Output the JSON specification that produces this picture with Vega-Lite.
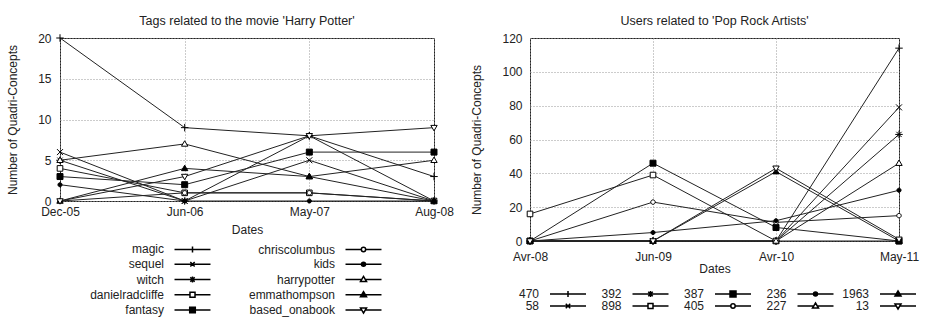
{
  "$schema": "https://vega.github.io/schema/vega-lite/v6.json",
  "padding": {"left": 6, "top": 14, "right": 0, "bottom": 0},
  "spacing": 16,
  "config": {
    "font": "Liberation Sans",
    "view": {"stroke": "#222", "strokeWidth": 1},
    "axis": {
      "grid": true, "gridColor": "#999", "gridDash": [1, 2], "gridWidth": 1,
      "domain": false, "ticks": false,
      "labelFont": "Liberation Sans", "labelFontSize": 12, "labelColor": "#222",
      "titleFont": "Liberation Sans", "titleFontSize": 12, "titleFontWeight": "normal", "titleColor": "#222"
    },
    "title": {"font": "Liberation Sans", "fontSize": 12.5, "fontWeight": "normal", "color": "#222"},
    "legend": {
      "labelFont": "Liberation Sans", "labelFontSize": 12, "labelColor": "#222",
      "padding": 0, "gridAlign": "all", "labelAlign": "right"
    }
  },
  "hconcat": [
    {
      "title": {"text": "Tags related to the movie 'Harry Potter'", "offset": 5},
      "width": 374,
      "height": 163,
      "data": {"values": [
        {"s": "magic", "d": "Dec-05", "v": 20}, {"s": "magic", "d": "Jun-06", "v": 9}, {"s": "magic", "d": "May-07", "v": 8}, {"s": "magic", "d": "Aug-08", "v": 3},
        {"s": "sequel", "d": "Dec-05", "v": 6}, {"s": "sequel", "d": "Jun-06", "v": 0}, {"s": "sequel", "d": "May-07", "v": 5}, {"s": "sequel", "d": "Aug-08", "v": 0},
        {"s": "witch", "d": "Dec-05", "v": 5}, {"s": "witch", "d": "Jun-06", "v": 0}, {"s": "witch", "d": "May-07", "v": 8}, {"s": "witch", "d": "Aug-08", "v": 0},
        {"s": "danielradcliffe", "d": "Dec-05", "v": 4}, {"s": "danielradcliffe", "d": "Jun-06", "v": 1}, {"s": "danielradcliffe", "d": "May-07", "v": 1}, {"s": "danielradcliffe", "d": "Aug-08", "v": 0},
        {"s": "fantasy", "d": "Dec-05", "v": 3}, {"s": "fantasy", "d": "Jun-06", "v": 2}, {"s": "fantasy", "d": "May-07", "v": 6}, {"s": "fantasy", "d": "Aug-08", "v": 6},
        {"s": "chriscolumbus", "d": "Dec-05", "v": 0}, {"s": "chriscolumbus", "d": "Jun-06", "v": 1}, {"s": "chriscolumbus", "d": "May-07", "v": 1}, {"s": "chriscolumbus", "d": "Aug-08", "v": 0},
        {"s": "kids", "d": "Dec-05", "v": 2}, {"s": "kids", "d": "Jun-06", "v": 0}, {"s": "kids", "d": "May-07", "v": 0}, {"s": "kids", "d": "Aug-08", "v": 0},
        {"s": "harrypotter", "d": "Dec-05", "v": 5}, {"s": "harrypotter", "d": "Jun-06", "v": 7}, {"s": "harrypotter", "d": "May-07", "v": 3}, {"s": "harrypotter", "d": "Aug-08", "v": 5},
        {"s": "emmathompson", "d": "Dec-05", "v": 0}, {"s": "emmathompson", "d": "Jun-06", "v": 4}, {"s": "emmathompson", "d": "May-07", "v": 3}, {"s": "emmathompson", "d": "Aug-08", "v": 0},
        {"s": "based_onabook", "d": "Dec-05", "v": 0}, {"s": "based_onabook", "d": "Jun-06", "v": 3}, {"s": "based_onabook", "d": "May-07", "v": 8}, {"s": "based_onabook", "d": "Aug-08", "v": 9}
      ]},
      "encoding": {
        "x": {"field": "d", "type": "ordinal", "sort": ["Dec-05", "Jun-06", "May-07", "Aug-08"],
              "scale": {"type": "point", "padding": 0},
              "axis": {"title": "Dates", "labelAngle": 0, "labelPadding": 5, "titlePadding": 7}},
        "y": {"field": "v", "type": "quantitative", "scale": {"domain": [0, 20], "nice": false},
              "axis": {"title": "Number of Quadri-Concepts", "values": [0, 5, 10, 15, 20], "labelPadding": 9, "titlePadding": 18}}
      },
      "layer": [
        {"mark": {"type": "line", "color": "#222", "strokeWidth": 1}, "encoding": {"detail": {"field": "s"}}},
        {"mark": {"type": "point", "stroke": "#000", "strokeWidth": 1, "size": 56, "opacity": 1},
         "encoding": {
           "shape": {"field": "s", "type": "nominal", "legend": null, "scale": {
             "domain": ["magic", "sequel", "witch", "danielradcliffe", "fantasy", "chriscolumbus", "kids", "harrypotter", "emmathompson", "based_onabook"],
             "range": ["M-1,0H1M0,-1V1", "M-0.8,-0.8L0.8,0.8M-0.8,0.8L0.8,-0.8", "M-1,0H1M0,-1V1M-0.7,-0.7L0.7,0.7M-0.7,0.7L0.7,-0.7", "M-0.75,-0.75H0.75V0.75H-0.75Z", "M-0.8,-0.8H0.8V0.8H-0.8Z", "M0.6,0A0.6,0.6 0 1,1 -0.6,0A0.6,0.6 0 1,1 0.6,0Z", "M0.55,0A0.55,0.55 0 1,1 -0.55,0A0.55,0.55 0 1,1 0.55,0Z", "M0,-0.85L0.85,0.6H-0.85Z", "M0,-0.85L0.85,0.6H-0.85Z", "M0,0.85L0.85,-0.6H-0.85Z"]}},
           "fill": {"field": "s", "type": "nominal", "legend": null, "scale": {
             "domain": ["magic", "sequel", "witch", "danielradcliffe", "fantasy", "chriscolumbus", "kids", "harrypotter", "emmathompson", "based_onabook"],
             "range": ["white", "white", "white", "white", "black", "white", "black", "white", "black", "white"]}}
         }},
        {"transform": [{"filter": "false"}],
         "mark": {"type": "point", "stroke": "#000", "strokeWidth": 1, "size": 196, "opacity": 1},
         "encoding": {
           "shape": {"field": "s", "type": "nominal",
             "legend": {"title": null, "orient": "none", "legendX": 124.5, "legendY": 203, "columns": 2, "labelOffset": -36.5, "columnPadding": 35, "rowPadding": 0.25, "symbolSize": 196, "symbolFillColor": "white"},
             "scale": {
             "domain": ["magic", "sequel", "witch", "danielradcliffe", "fantasy", "chriscolumbus", "kids", "harrypotter", "emmathompson", "based_onabook"],
             "range": ["M-2.57,0H2.57M0,-0.43V0.43", "M-2.57,0H2.57M-0.31,-0.31L0.31,0.31M-0.31,0.31L0.31,-0.31", "M-2.57,0H2.57M0,-0.43V0.43M-0.31,-0.31L0.31,0.31M-0.31,0.31L0.31,-0.31", "M-2.57,0H-0.36M0.36,0H2.57M-0.36,-0.36H0.36V0.36H-0.36Z", "M-2.57,0H2.57M-0.4,-0.4H0.4V0.4H-0.4Z", "M-2.57,0H-0.31M0.31,0H2.57M0.31,0A0.31,0.31 0 1,1 -0.31,0A0.31,0.31 0 1,1 0.31,0Z", "M-2.57,0H2.57M0.29,0A0.29,0.29 0 1,1 -0.29,0A0.29,0.29 0 1,1 0.29,0Z", "M-2.57,0H-0.33M0.33,0H2.57M0,-0.43L0.43,0.29H-0.43Z", "M-2.57,0H2.57M0,-0.43L0.43,0.29H-0.43Z", "M-2.57,0H-0.33M0.33,0H2.57M0,0.43L0.43,-0.29H-0.43Z"]}},
           "fill": {"field": "s", "type": "nominal", "scale": {
             "domain": ["magic", "sequel", "witch", "danielradcliffe", "fantasy", "chriscolumbus", "kids", "harrypotter", "emmathompson", "based_onabook"],
             "range": ["white", "white", "white", "white", "black", "white", "black", "white", "black", "white"]}}
         }}
      ],
      "resolve": {"scale": {"shape": "independent", "fill": "independent"}}
    },
    {
      "title": {"text": "Users related to 'Pop Rock Artists'", "offset": 5},
      "width": 369,
      "height": 203,
      "data": {"values": [
        {"s": "470", "d": "Avr-08", "v": 0}, {"s": "470", "d": "Jun-09", "v": 0}, {"s": "470", "d": "Avr-10", "v": 0}, {"s": "470", "d": "May-11", "v": 114},
        {"s": "58", "d": "Avr-08", "v": 0}, {"s": "58", "d": "Jun-09", "v": 0}, {"s": "58", "d": "Avr-10", "v": 0}, {"s": "58", "d": "May-11", "v": 79},
        {"s": "392", "d": "Avr-08", "v": 0}, {"s": "392", "d": "Jun-09", "v": 0}, {"s": "392", "d": "Avr-10", "v": 0}, {"s": "392", "d": "May-11", "v": 63},
        {"s": "898", "d": "Avr-08", "v": 16}, {"s": "898", "d": "Jun-09", "v": 39}, {"s": "898", "d": "Avr-10", "v": 0}, {"s": "898", "d": "May-11", "v": 0},
        {"s": "387", "d": "Avr-08", "v": 0}, {"s": "387", "d": "Jun-09", "v": 46}, {"s": "387", "d": "Avr-10", "v": 8}, {"s": "387", "d": "May-11", "v": 0},
        {"s": "405", "d": "Avr-08", "v": 0}, {"s": "405", "d": "Jun-09", "v": 23}, {"s": "405", "d": "Avr-10", "v": 11}, {"s": "405", "d": "May-11", "v": 15},
        {"s": "236", "d": "Avr-08", "v": 0}, {"s": "236", "d": "Jun-09", "v": 5}, {"s": "236", "d": "Avr-10", "v": 12}, {"s": "236", "d": "May-11", "v": 30},
        {"s": "227", "d": "Avr-08", "v": 0}, {"s": "227", "d": "Jun-09", "v": 0}, {"s": "227", "d": "Avr-10", "v": 0}, {"s": "227", "d": "May-11", "v": 46},
        {"s": "1963", "d": "Avr-08", "v": 0}, {"s": "1963", "d": "Jun-09", "v": 0}, {"s": "1963", "d": "Avr-10", "v": 41}, {"s": "1963", "d": "May-11", "v": 0},
        {"s": "13", "d": "Avr-08", "v": 0}, {"s": "13", "d": "Jun-09", "v": 0}, {"s": "13", "d": "Avr-10", "v": 43}, {"s": "13", "d": "May-11", "v": 1}
      ]},
      "encoding": {
        "x": {"field": "d", "type": "ordinal", "sort": ["Avr-08", "Jun-09", "Avr-10", "May-11"],
              "scale": {"type": "point", "padding": 0},
              "axis": {"title": "Dates", "labelAngle": 0, "labelPadding": 10, "titlePadding": 1}},
        "y": {"field": "v", "type": "quantitative", "scale": {"domain": [0, 120], "nice": false},
              "axis": {"title": "Number of Quadri-Concepts", "values": [0, 20, 40, 60, 80, 100, 120], "labelPadding": 8, "titlePadding": 18}}
      },
      "layer": [
        {"mark": {"type": "line", "color": "#222", "strokeWidth": 1}, "encoding": {"detail": {"field": "s"}}},
        {"mark": {"type": "point", "stroke": "#000", "strokeWidth": 1, "size": 56, "opacity": 1},
         "encoding": {
           "shape": {"field": "s", "type": "nominal", "legend": null, "scale": {
             "domain": ["470", "58", "392", "898", "387", "405", "236", "227", "1963", "13"],
             "range": ["M-1,0H1M0,-1V1", "M-0.8,-0.8L0.8,0.8M-0.8,0.8L0.8,-0.8", "M-1,0H1M0,-1V1M-0.7,-0.7L0.7,0.7M-0.7,0.7L0.7,-0.7", "M-0.75,-0.75H0.75V0.75H-0.75Z", "M-0.8,-0.8H0.8V0.8H-0.8Z", "M0.6,0A0.6,0.6 0 1,1 -0.6,0A0.6,0.6 0 1,1 0.6,0Z", "M0.55,0A0.55,0.55 0 1,1 -0.55,0A0.55,0.55 0 1,1 0.55,0Z", "M0,-0.85L0.85,0.6H-0.85Z", "M0,-0.85L0.85,0.6H-0.85Z", "M0,0.85L0.85,-0.6H-0.85Z"]}},
           "fill": {"field": "s", "type": "nominal", "legend": null, "scale": {
             "domain": ["470", "58", "392", "898", "387", "405", "236", "227", "1963", "13"],
             "range": ["white", "white", "white", "white", "black", "white", "black", "white", "black", "white"]}}
         }},
        {"transform": [{"filter": "false"}],
         "mark": {"type": "point", "stroke": "#000", "strokeWidth": 1, "size": 100, "opacity": 1},
         "encoding": {
           "shape": {"field": "s", "type": "nominal",
             "legend": {"title": null, "orient": "none", "legendX": 32, "legendY": 250, "columns": 5, "labelOffset": -35, "columnPadding": 5.5, "rowPadding": 0, "symbolSize": 100, "symbolFillColor": "white"},
             "scale": {
             "domain": ["470", "58", "392", "898", "387", "405", "236", "227", "1963", "13"],
             "range": ["M-3.6,0H3.6M0,-0.6V0.6", "M-3.6,0H3.6M-0.45,-0.45L0.45,0.45M-0.45,0.45L0.45,-0.45", "M-3.6,0H3.6M0,-0.6V0.6M-0.45,-0.45L0.45,0.45M-0.45,0.45L0.45,-0.45", "M-3.6,0H-0.5M0.5,0H3.6M-0.5,-0.5H0.5V0.5H-0.5Z", "M-3.6,0H3.6M-0.6,-0.6H0.6V0.6H-0.6Z", "M-3.6,0H-0.44M0.44,0H3.6M0.44,0A0.44,0.44 0 1,1 -0.44,0A0.44,0.44 0 1,1 0.44,0Z", "M-3.6,0H3.6M0.4,0A0.4,0.4 0 1,1 -0.4,0A0.4,0.4 0 1,1 0.4,0Z", "M-3.6,0H-0.46M0.46,0H3.6M0,-0.6L0.6,0.4H-0.6Z", "M-3.6,0H3.6M0,-0.6L0.6,0.4H-0.6Z", "M-3.6,0H-0.46M0.46,0H3.6M0,0.6L0.6,-0.4H-0.6Z"]}},
           "fill": {"field": "s", "type": "nominal", "scale": {
             "domain": ["470", "58", "392", "898", "387", "405", "236", "227", "1963", "13"],
             "range": ["white", "white", "white", "white", "black", "white", "black", "white", "black", "white"]}}
         }}
      ],
      "resolve": {"scale": {"shape": "independent", "fill": "independent"}}
    }
  ]
}
